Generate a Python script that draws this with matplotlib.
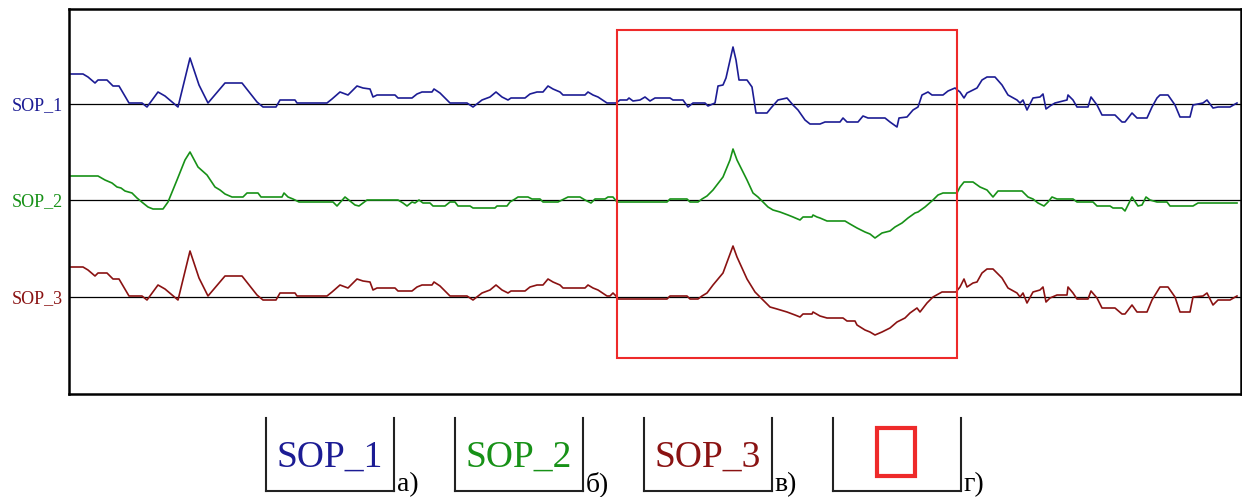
import matplotlib.pyplot as plt
from matplotlib.patches import Rectangle

# Traces: sample number and deviation from each channel's zero line.
sop1_x = [71, 83, 88, 95, 98, 107, 113, 119, 129, 142, 147, 158, 165, 178, 190, 199, 208, 225, 242,
          257, 263, 276, 280, 295, 297, 327, 332, 340, 348, 357, 363, 370, 373, 377, 395, 398, 412, 417,
          422, 432, 434, 440, 450, 467, 473, 482, 490, 496, 502, 508, 511, 525, 530, 537, 543, 548, 553,
          560, 563, 585, 588, 593, 598, 607, 616, 620, 627, 629, 633, 640, 645, 650, 655, 670, 673, 683,
          688, 693, 705, 708, 715, 718, 723, 726, 733, 736, 739, 747, 752, 756, 767, 771, 778, 787, 793,
          798, 805, 810, 820, 825, 840, 843, 847, 858, 863, 868, 885, 890, 897, 899, 907, 913, 918, 922,
          928, 932, 943, 948, 955, 960, 964, 967, 977, 982, 987, 995, 1002, 1008, 1017, 1020, 1023, 1027,
          1033, 1040, 1043, 1046, 1050, 1055, 1067, 1068, 1073, 1077, 1088, 1091, 1097, 1102, 1115, 1122,
          1125, 1132, 1137, 1147, 1152, 1157, 1160, 1168, 1175, 1180, 1190, 1193, 1203, 1207, 1213, 1218,
          1230, 1237]
sop1_y = [30, 30, 27, 21, 24, 24, 18, 18, 1, 1, -3, 12, 8, -3, 46, 19, 1, 21, 21,
          2, -3, -3, 4, 4, 1, 1, 5, 12, 9, 18, 16, 15, 7, 9, 9, 6, 6, 10,
          12, 12, 15, 11, 1, 1, -3, 4, 7, 12, 7, 4, 6, 6, 10, 12, 12, 18, 15,
          12, 9, 9, 12, 9, 7, 1, 1, 4, 4, 6, 3, 4, 7, 3, 6, 6, 4, 4,
          -3, 1, 1, -2, 1, 18, 19, 26, 57, 44, 24, 24, 17, -9, -9, -4, 4, 6, -1,
          -6, -16, -20, -20, -18, -18, -14, -18, -18, -12, -14, -14, -18, -23, -14, -13, -6, -3, 9,
          12, 9, 9, 13, 16, 12, 6, 11, 16, 24, 27, 27, 19, 9, 4, 1, 4, -6,
          6, 7, 10, -5, -2, 1, 4, 9, 4, -3, -3, 7, -1, -11, -11, -18,
          -18, -9, -14, -14, -3, 6, 9, 9, -1, -13, -13, -1, 1, 4, -4, -3,
          -3, 1]

sop2_x = [71, 98, 105, 112, 117, 121, 125, 132, 137, 143, 148, 153, 163, 168, 177, 185, 190, 198, 207,
          215, 220, 225, 232, 243, 247, 258, 261, 282, 284, 288, 293, 299, 333, 337, 345, 355, 359, 367,
          398, 403, 407, 412, 415, 419, 423, 430, 433, 445, 450, 455, 458, 470, 473, 495, 497, 507, 510,
          515, 518, 528, 532, 540, 543, 558, 562, 568, 580, 585, 591, 595, 605, 608, 613, 617, 667, 670,
          687, 690, 698, 702, 707, 713, 723, 730, 733, 737, 747, 753, 758, 763, 768, 773, 780, 788, 793,
          800, 803, 812, 813, 817, 820, 827, 845, 850, 857, 865, 870, 875, 882, 890, 895, 902, 908, 915,
          918, 925, 933, 938, 943, 957, 960, 964, 973, 980, 987, 993, 998, 1022, 1028, 1033, 1038, 1044,
          1048, 1052, 1057, 1073, 1077, 1093, 1097, 1110, 1113, 1122, 1125, 1132, 1138, 1142, 1146, 1150,
          1157, 1167, 1170, 1193, 1198, 1237]
sop2_y = [24, 24, 20, 17, 13, 12, 9, 7, 2, -3, -7, -9, -9, -2, 20, 40, 48, 33, 25,
          13, 10, 6, 3, 3, 7, 7, 3, 3, 7, 3, 1, -2, -2, -6, 3, -5, -6, 0,
          0, -3, -6, -2, -3, 0, -3, -3, -6, -6, -2, -2, -6, -6, -8, -8, -6, -6, -2,
          1, 3, 3, 1, 1, -2, -2, 0, 3, 3, 0, -3, 1, 1, 3, 3, -2, -2, 1,
          1, -2, -2, 1, 4, 10, 23, 40, 51, 40, 20, 7, 3, -2, -7, -10, -12, -15, -17,
          -20, -17, -17, -15, -17, -18, -21, -21, -24, -28, -32, -34, -38, -33, -31, -27, -23, -18, -13,
          -12, -7, 0, 5, 7, 7, 13, 18, 18, 13, 10, 3, 9, 9, 3, 1, -3, -6,
          -2, 3, 1, 1, -2, -2, -6, -6, -8, -8, -11, 3, -6, -5, 3, 0,
          -2, -2, -6, -6, -3, -3]

sop3_x = [71, 83, 88, 95, 98, 107, 113, 119, 129, 142, 147, 158, 165, 178, 190, 199, 208, 225, 242,
          257, 263, 276, 280, 295, 297, 327, 332, 340, 348, 357, 363, 370, 373, 377, 395, 398, 412, 417,
          422, 432, 434, 440, 450, 467, 473, 482, 490, 496, 502, 508, 511, 525, 530, 537, 543, 548, 553,
          560, 563, 585, 588, 593, 598, 607, 610, 613, 616, 618, 667, 670, 687, 690, 698, 702, 707, 713,
          723, 730, 733, 737, 747, 755, 760, 765, 770, 777, 787, 795, 800, 803, 812, 813, 820, 827, 843,
          847, 855, 857, 865, 870, 875, 882, 890, 897, 905, 910, 917, 920, 927, 933, 942, 956, 960, 964,
          967, 973, 977, 982, 987, 993, 1002, 1008, 1017, 1020, 1023, 1027, 1033, 1040, 1043, 1046, 1050,
          1057, 1067, 1068, 1073, 1077, 1088, 1091, 1097, 1102, 1115, 1122, 1125, 1132, 1137, 1147, 1152,
          1157, 1160, 1168, 1175, 1180, 1190, 1193, 1203, 1207, 1213, 1218, 1230, 1237]
sop3_y = [30, 30, 27, 21, 24, 24, 18, 18, 1, 1, -3, 12, 8, -3, 46, 19, 1, 21, 21,
          2, -3, -3, 4, 4, 1, 1, 5, 12, 9, 18, 16, 15, 7, 9, 9, 6, 6, 10,
          12, 12, 15, 11, 1, 1, -3, 4, 7, 12, 7, 4, 6, 6, 10, 12, 12, 18, 15,
          12, 9, 9, 12, 9, 7, 1, 1, 4, 1, -2, -2, 1, 1, -2, -2, 1, 4, 12,
          24, 43, 51, 40, 18, 5, 0, -5, -10, -12, -15, -18, -20, -17, -17, -15, -19, -21, -21,
          -24, -24, -28, -33, -35, -38, -35, -31, -25, -21, -16, -11, -15, -6, 0, 5, 5, 10, 18,
          10, 14, 15, 24, 28, 28, 19, 9, 4, 0, 4, -6, 5, 7, 10, -5, -1,
          2, 2, 10, 4, -2, -2, 6, -1, -11, -11, -17, -17, -8, -15, -15, -3,
          5, 10, 10, 0, -15, -15, 0, 1, 4, -8, -3, -3, 1]

names = ['SOP_1', 'SOP_2', 'SOP_3']
colors = ['#1c1c94', '#179117', '#8a1212']
panel_tags = ['а)', 'б)', 'в)', 'г)']
zero_levels = [290, 194, 97]   # vertical stacking of the three channels
roi = (617, 957)               # marked fragment, sample range

fig = plt.figure(figsize=(12.42, 4.97), dpi=100)
plt.rcParams['font.family'] = ['Liberation Serif', 'DejaVu Serif']

ax = fig.add_axes([69 / 1242, 103 / 497, 1172 / 1242, 385 / 497])
ax.set_xlim(69, 1241)
ax.set_ylim(0, 385)
ax.set_xticks([])
ax.set_yticks([])
for sp in ax.spines.values():
    sp.set_linewidth(1.8)

series = [(sop1_x, sop1_y), (sop2_x, sop2_y), (sop3_x, sop3_y)]
for (xs, ys), base, col, name in zip(series, zero_levels, colors, names):
    ax.axhline(base, color='black', lw=0.9, zorder=1)
    ax.plot(xs, [base + v for v in ys], color=col, lw=1.2, zorder=2)
    ax.annotate(name, xy=(0, base), xycoords=('axes fraction', 'data'),
                xytext=(-6, -6), textcoords='offset pixels',
                ha='right', va='baseline', fontsize=13, color=col)

ax.add_patch(Rectangle((roi[0], 36), roi[1] - roi[0], 328.5, fill=False,
                       edgecolor='#ee2a2a', lw=1.5, zorder=3))

# legend panels under the chart
box_left = [266, 455, 644, 833]
for i, left in enumerate(box_left):
    bx = fig.add_axes([left / 1242, 6 / 497, 128 / 1242, 73 / 497])
    bx.set_xlim(0, 1)
    bx.set_ylim(0, 1)
    bx.set_xticks([])
    bx.set_yticks([])
    bx.spines['top'].set_visible(False)
    for s in ['left', 'right', 'bottom']:
        bx.spines[s].set_linewidth(1.5)
        bx.spines[s].set_color('#222222')
    if i < 3:
        bx.text(0.5, 0.33, names[i], ha='center', va='baseline', fontsize=27, color=colors[i])
    else:
        bx.add_patch(Rectangle((0.34, 0.205), 0.3, 0.66, fill=False, edgecolor='#ee2a2a', lw=3))
    bx.text(1.02, 0.0, panel_tags[i], ha='left', va='baseline', fontsize=20,
            transform=bx.transAxes, clip_on=False)

fig.savefig('out.png', dpi=100)
